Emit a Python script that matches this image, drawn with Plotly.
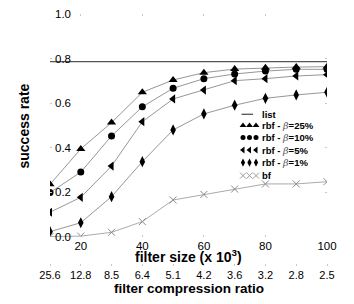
import plotly.graph_objects as go

# ---- data ----
filter_size = [10, 20, 30, 40, 50, 60, 70, 80, 90, 100]
compression_labels = ["25.6", "12.8", "8.5", "6.4", "5.1", "4.2", "3.6", "3.2", "2.8", "2.5"]
list_rate = [0.786, 0.786, 0.786, 0.786, 0.786, 0.786, 0.786, 0.786, 0.786, 0.786]
rbf_25 = [0.236, 0.395, 0.513, 0.649, 0.704, 0.737, 0.753, 0.759, 0.762, 0.764]
rbf_10 = [0.199, 0.291, 0.453, 0.584, 0.667, 0.710, 0.731, 0.744, 0.752, 0.752]
rbf_5 = [0.111, 0.178, 0.318, 0.517, 0.619, 0.659, 0.701, 0.710, 0.722, 0.728]
rbf_1 = [0.024, 0.064, 0.181, 0.338, 0.480, 0.552, 0.591, 0.622, 0.637, 0.649]
bf = [0.002, 0.004, 0.021, 0.069, 0.166, 0.191, 0.215, 0.238, 0.238, 0.248]
y_ticks = [0.0, 0.2, 0.4, 0.6, 0.8, 1.0]
x_ticks = [20, 40, 60, 80, 100]

W, H = 354, 304
ML, MR, MT, MB = 50, 27, 14, 20
plot_w = W - ML - MR
plot_h = H - MT - MB
y_bottom_px = 237
ydom0 = (H - MB - y_bottom_px) / plot_h

FONT = "Liberation Sans, Arial, sans-serif"
LINE_GRAY = "#8a8a8a"
TICK_GRAY = "#c8c8c8"

fig = go.Figure()

fig.add_trace(go.Scatter(x=filter_size, y=list_rate, mode="lines",
                         line=dict(color="#555555", width=1.3), showlegend=False))

series = [
    ("rbf - β=25%", rbf_25, "triangle-up", 8),
    ("rbf - β=10%", rbf_10, "circle", 7),
    ("rbf - β=5%", rbf_5, "triangle-left", 8),
    ("rbf - β=1%", rbf_1, "diamond-tall", 8),
]
for name, vals, sym, sz in series:
    fig.add_trace(go.Scatter(x=filter_size, y=vals, mode="lines+markers",
                             line=dict(color=LINE_GRAY, width=0.9),
                             marker=dict(symbol=sym, size=sz, color="black"),
                             showlegend=False))
fig.add_trace(go.Scatter(x=filter_size, y=bf, mode="lines+markers",
                         line=dict(color="#a0a0a0", width=0.9),
                         marker=dict(symbol="x-thin", size=7,
                                     line=dict(color="#8a8a8a", width=1)),
                         showlegend=False))
# invisible trace binding the compression-ratio axis
fig.add_trace(go.Scatter(x=filter_size, y=bf, mode="markers", xaxis="x2", yaxis="y",
                         marker=dict(size=1, opacity=0), hoverinfo="skip",
                         showlegend=False))

# ---- legend built on a pixel-space overlay axis ----
leg_rows = [114.3, 125.6, 137.6, 150.0, 162.6, 175.6]
leg_text_x = 260
leg_marker_x = [243, 249.5, 256]
fig.add_trace(go.Scatter(x=[241.5, 253], y=[leg_rows[0]] * 2, mode="lines",
                         line=dict(color="#555555", width=1.3),
                         xaxis="x3", yaxis="y3", showlegend=False))
for i, (name, vals, sym, sz) in enumerate(series):
    fig.add_trace(go.Scatter(x=leg_marker_x, y=[leg_rows[i + 1]] * 3, mode="markers",
                             marker=dict(symbol=sym, size=sz - 2, color="black"),
                             xaxis="x3", yaxis="y3", showlegend=False))
fig.add_trace(go.Scatter(x=leg_marker_x, y=[leg_rows[5]] * 3, mode="markers",
                         marker=dict(symbol="x-thin", size=6,
                                     line=dict(color="#9a9a9a", width=1)),
                         xaxis="x3", yaxis="y3", showlegend=False))

beta = "<span style=\"font-family:'DejaVu Serif';font-weight:normal;fill:#555\"><i>β</i></span>"
leg_labels = ["<b>list</b>",
              "<b>rbf - </b>" + beta + "<b>=25%</b>",
              "<b>rbf - </b>" + beta + "<b>=10%</b>",
              "<b>rbf - </b>" + beta + "<b>=5%</b>",
              "<b>rbf - </b>" + beta + "<b>=1%</b>",
              "<b>bf</b>"]
annotations = []
for yrow, txt in zip(leg_rows, leg_labels):
    annotations.append(dict(x=leg_text_x, y=yrow, xref="x3", yref="y3", text=txt,
                            showarrow=False, xanchor="left", yanchor="middle",
                            font=dict(family=FONT, size=9.5, color="black")))

# axis titles
annotations.append(dict(x=0.5, y=(H - MB - 256) / plot_h,
                        xref="paper", yref="paper",
                        text="<b>filter size (x 10<sup>3</sup>)</b>", showarrow=False,
                        xanchor="center", yanchor="middle",
                        font=dict(family=FONT, size=14, color="black")))
annotations.append(dict(x=0.5, y=(H - MB - 288) / plot_h, xref="paper", yref="paper",
                        text="<b>filter compression ratio</b>", showarrow=False,
                        xanchor="center", yanchor="middle",
                        font=dict(family=FONT, size=13.5, color="black")))
annotations.append(dict(x=(23.5 - ML) / plot_w, y=(H - MB - 126) / plot_h,
                        xref="paper", yref="paper", textangle=-90,
                        text="<b>success rate</b>", showarrow=False,
                        xanchor="center", yanchor="middle",
                        font=dict(family=FONT, size=14, color="black")))

fig.update_layout(
    width=W, height=H,
    margin=dict(l=ML, r=MR, t=MT, b=MB, autoexpand=False),
    paper_bgcolor="white", plot_bgcolor="white",
    font=dict(family=FONT, size=11.5, color="black"),
    showlegend=False,
    annotations=annotations,
    xaxis=dict(range=[10, 100], domain=[0, 1], anchor="y", tickvals=x_ticks,
               showgrid=False, zeroline=False, showline=False, automargin=False,
               ticks="inside", ticklen=2, tickcolor=TICK_GRAY, mirror="ticks",
               tickfont=dict(size=11.5)),
    xaxis2=dict(range=[10, 100], overlaying="x", anchor="free",
                position=(H - MB - 263) / plot_h, side="bottom",
                tickvals=filter_size, ticktext=compression_labels, automargin=False,
                showgrid=False, zeroline=False, showline=False,
                ticks="outside", ticklen=2, tickcolor=TICK_GRAY,
                tickfont=dict(size=11)),
    yaxis=dict(range=[0, 1], domain=[ydom0, 1], anchor="x", tickvals=y_ticks,
               tickformat=".1f", showgrid=False, zeroline=False, showline=False,
               automargin=False, ticklabelstandoff=-22,
               ticks="inside", ticklen=2, tickcolor=TICK_GRAY, mirror="ticks",
               tickfont=dict(size=11.5)),
    # overlay axes share the main subplot area (x: 50..327 px, y: 14..237 px)
    xaxis3=dict(range=[ML, W - MR], anchor="y3", overlaying="x",
                visible=False, automargin=False, fixedrange=True),
    yaxis3=dict(range=[y_bottom_px, MT], anchor="x3", overlaying="y",
                visible=False, automargin=False, fixedrange=True),
)

fig.write_html("out.html", config={"displayModeBar": False},
               post_script="document.body.style.margin='0';document.body.style.overflow='hidden';")
